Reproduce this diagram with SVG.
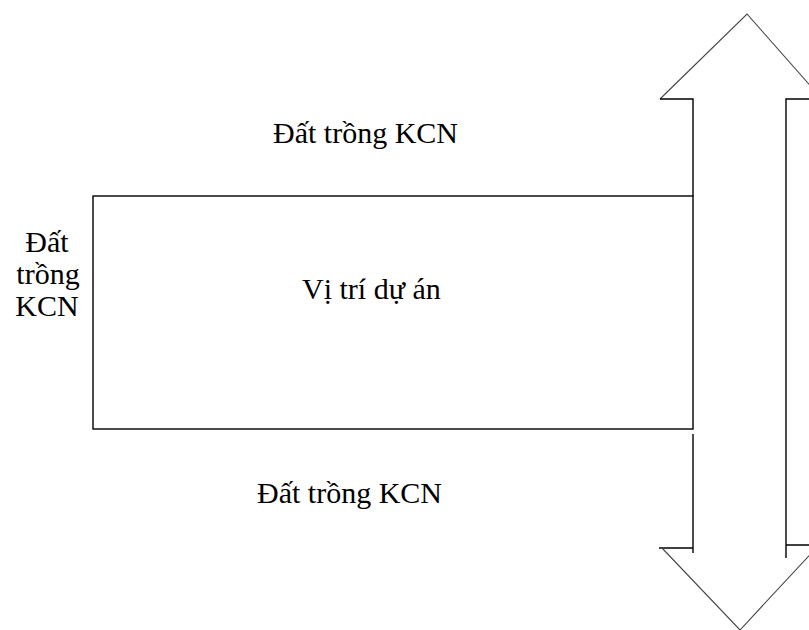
<svg xmlns="http://www.w3.org/2000/svg" width="809" height="630" viewBox="0 0 809 630">
  <style>
    .lbl { font-family: 'Liberation Serif', 'DejaVu Serif', serif; font-size: 30px; fill: #000; }
    .edge { fill: none; stroke: #000; stroke-width: 1.4; }
    .head { fill: none; stroke: #444; stroke-width: 1.1; }
  </style>
  <rect width="809" height="630" fill="#fff"/>

  <!-- project site -->
  <g id="site">
    <rect class="edge" x="93" y="196" width="600" height="233"/>
    <text class="lbl" font-family="Liberation Serif, serif" x="302" y="299">Vị trí dự án</text>
  </g>

  <!-- surrounding vacant industrial land -->
  <g id="land-north">
    <text class="lbl" font-family="Liberation Serif, serif" x="273" y="143">Đất trồng KCN</text>
  </g>
  <g id="land-south">
    <text class="lbl" font-family="Liberation Serif, serif" x="257" y="503">Đất trồng KCN</text>
  </g>
  <g id="land-west" font-family="Liberation Serif, serif">
    <text class="lbl" text-anchor="middle" x="47" y="252">Đất</text>
    <text class="lbl" text-anchor="middle" x="48" y="284">trồng</text>
    <text class="lbl" text-anchor="middle" x="47" y="316">KCN</text>
  </g>

  <!-- two-way road along the east side -->
  <g id="road">
    <polyline class="head" points="660,99 747,14 822,99"/>
    <polyline class="edge" points="660,99 693,99 693,196"/>
    <polyline class="edge" points="822,99 786,99 786,558"/>
    <polyline class="edge" points="693,434 693,553"/>
    <polyline class="edge" points="659,548 693,548"/>
    <polyline class="edge" points="786,545 822,545"/>
    <polyline class="head" points="662,548 740,630 818,546"/>
  </g>
</svg>
